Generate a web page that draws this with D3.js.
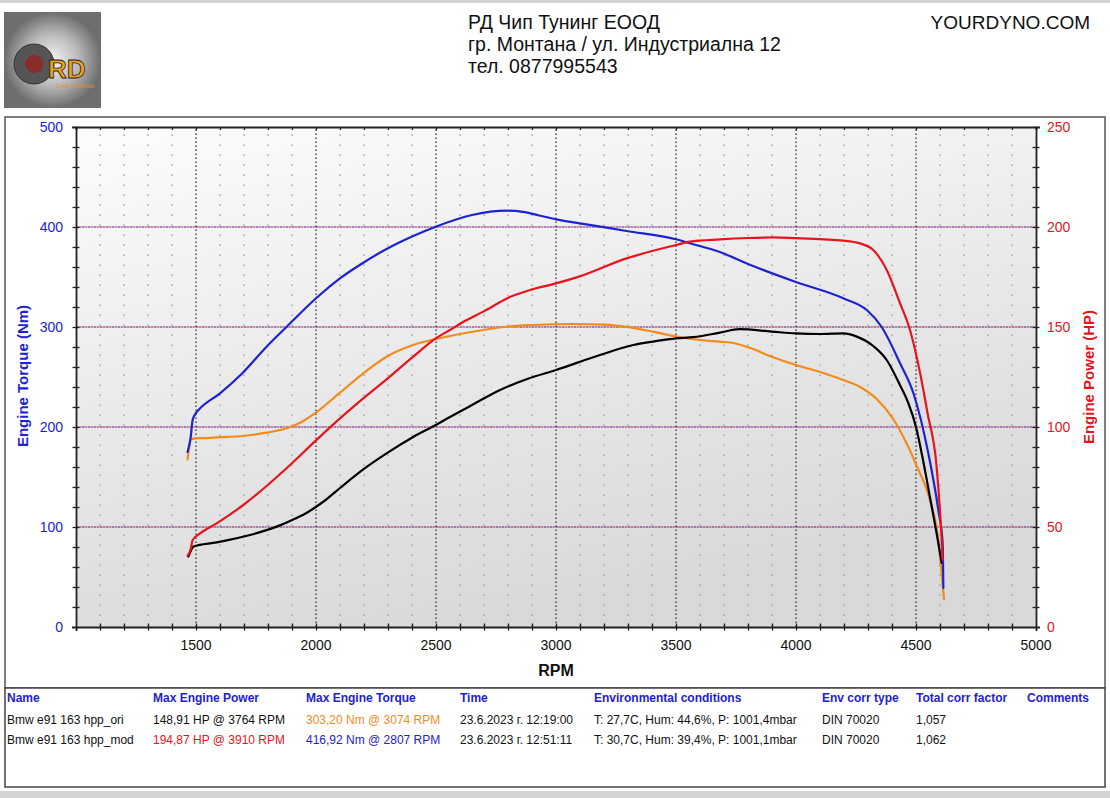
<!DOCTYPE html>
<html>
<head>
<meta charset="utf-8">
<script src="https://cdn.jsdelivr.net/npm/d3@7"></script>
<style type="text/css">
body { margin: 0; background: #fff; }
svg text { font-family: "Liberation Sans", Arial, sans-serif; }
.curve { fill: none; stroke-width: 2.2; stroke-linejoin: round; stroke-linecap: round; }
</style>
</head>
<body>
<div id="chart"></div>
<script>

// ---- data ----
// ori run (orange torque, black power)
var oriRpmTq  = [1465,1478,1496,1517,1600,1697,1794,1878,1940,1999,2100,2197,2294,2405,2499,2600,2697,2800,2905,3074,3200,3308,3405,3503,3600,3683,3739,3812,3899,4000,4100,4197,4267,4336,4405,4460,4503,4558,4593,4604,4617];
var oriTorque = [167.7,187,188.7,188.8,189.8,191,194.3,198.7,205,214.3,234.3,253.7,270.3,282,288,293,297,300.5,302,303,302.3,299.6,295.3,290.3,287,285.3,284,278.7,270.3,262,255,247,240,228,208,184,161,127,87,60,27.7];

var oriRpmPw  = [1468,1480,1489,1586,1725,1836,1919,1960,1999,2040,2100,2197,2294,2405,2499,2558,2650,2767,2880,3000,3183,3322,3405,3500,3572,3683,3764,3899,4000,4100,4197,4253,4322,4378,4433,4468,4500,4530,4558,4593,4607];
var oriPower  = [35.2,38.5,40.2,42.3,46,50.2,54.5,57,60,63.5,69.5,78.8,86.8,95,101,105,111,118.5,124,128.5,136,141,142.7,144.3,144.9,147.2,148.9,147.7,146.8,146.5,146.8,145.2,140.5,133.5,121,112,100,83,65,42,32];

// mod run (blue torque, red power)
var modRpmTq  = [1465,1478,1486,1503,1517,1600,1690,1794,1878,1999,2100,2197,2294,2405,2499,2650,2795,2862,2930,3000,3100,3294,3500,3558,3683,3800,4000,4197,4295,4357,4433,4489,4551,4593,4611,4614];
var modTorque = [175,190,207,215,218.7,233.7,253,280.3,300.3,328.5,348.7,364.3,378,391,400.3,412,416.3,415.2,411.5,407.7,403.7,396,387.7,383.7,375,363,345,328.7,317,300,264,234,174,117,84,39];

var modRpmPw  = [1465,1478,1486,1517,1586,1697,1794,1892,1999,2100,2197,2294,2405,2499,2558,2620,2697,2808,2892,3000,3086,3294,3500,3558,3683,3800,3910,4000,4197,4267,4322,4378,4433,4475,4517,4548,4586,4604,4611];
var modPower  = [35.6,39,43.5,46.8,51.8,61,70.5,81,93.2,104.3,114.3,123.8,135.2,144.3,148.5,153,157.7,165,168.5,171.8,174.8,184.3,191,192.7,193.8,194.5,194.8,194.4,193.2,191.8,188.5,178.5,162,148.5,127,107,80,50,33.5];

// axis labels
var rpmTickLabels    = [1500,2000,2500,3000,3500,4000,4500,5000];
var torqueTickLabels = [0,100,200,300,400,500];
var powerTickLabels  = [0,50,100,150,200,250];

// header + results table
var headerLines = ["РД Чип Тунинг ЕООД", "гр. Монтана / ул. Индустриална 12", "тел. 0877995543"];
var tableHeads  = ["Name","Max Engine Power","Max Engine Torque","Time","Environmental conditions","Env corr type","Total corr factor","Comments"];
var tableRows   = [
	["Bmw e91 163 hpp_ori","148,91 HP @ 3764 RPM","303,20 Nm @ 3074 RPM","23.6.2023 г. 12:19:00","T: 27,7C, Hum: 44,6%, P: 1001,4mbar","DIN 70020","1,057",""],
	["Bmw e91 163 hpp_mod","194,87 HP @ 3910 RPM","416,92 Nm @ 2807 RPM","23.6.2023 г. 12:51:11","T: 30,7C, Hum: 39,4%, P: 1001,1mbar","DIN 70020","1,062",""]
];
var tableColX   = [7,153,306,460,594,822,916,1027];
var rowColors   = [["#111","#111","#f08c1e","#111","#111","#111","#111"],
                   ["#111","#e8141c","#1e22d0","#111","#111","#111","#111"]];

var BLUE = "#1e22d0", RED = "#e8141c", ORANGE = "#f38b1c";

var svg = d3.select("#chart").append("svg")
	.attr("width", 1110).attr("height", 798);

var defs = svg.append("defs");
var bg = defs.append("linearGradient").attr("id","plotbg")
	.attr("x1","0").attr("y1","0").attr("x2","0.35").attr("y2","1");
bg.append("stop").attr("offset","0").attr("stop-color","#fcfcfc");
bg.append("stop").attr("offset","1").attr("stop-color","#d9d9d9");
var lg = defs.append("radialGradient").attr("id","logobg");
lg.append("stop").attr("offset","0").attr("stop-color","#f4f4f4");
lg.append("stop").attr("offset","0.55").attr("stop-color","#b8b8b8");
lg.append("stop").attr("offset","1").attr("stop-color","#6e6e6e");

// page strips
svg.append("rect").attr("x",0).attr("y",0).attr("width",1110).attr("height",3).attr("fill","#d4d4d4");
svg.append("rect").attr("x",0).attr("y",791).attr("width",1110).attr("height",7).attr("fill","#d4d4d4");

// logo (simplified)
var logo = svg.append("g").attr("transform","translate(4,12)");
logo.append("rect").attr("width",97).attr("height",96).attr("fill","url(#logobg)");
logo.append("circle").attr("cx",30).attr("cy",52).attr("r",20).attr("fill","#555").attr("stroke","#333");
logo.append("circle").attr("cx",30).attr("cy",52).attr("r",9).attr("fill","#8a2a2a");
logo.append("text").attr("x",44).attr("y",66).attr("font-size",26).attr("font-weight","bold")
	.attr("fill","#f0a020").attr("stroke","#222").attr("stroke-width",0.8).text("RD");
logo.append("text").attr("x",52).attr("y",76).attr("font-size",6).attr("fill","#e09020").text("CHIP TUNING");

// header text
svg.selectAll("text.hdr").data(headerLines).enter().append("text")
	.attr("class","hdr").attr("x",468).attr("y",function(d,i){ return 29 + i*22; })
	.attr("font-size",19.5).attr("fill","#111").text(function(d){ return d; });
svg.append("text").attr("x",1090).attr("y",29).attr("text-anchor","end")
	.attr("font-size",19).attr("fill","#111").text("YOURDYNO.COM");

// frames
svg.append("rect").attr("x",5).attr("y",117).attr("width",1100).attr("height",571)
	.attr("fill","#fff").attr("stroke","#555").attr("stroke-width",1.5);
svg.append("rect").attr("x",5).attr("y",688).attr("width",1100).attr("height",99)
	.attr("fill","#fff").attr("stroke","#444").attr("stroke-width",1.5);

// ---- plot ----
var margin = {left: 76, top: 127}, width = 960, height = 500;
var g = svg.append("g").attr("transform","translate(" + margin.left + "," + margin.top + ")");

var x  = d3.scaleLinear().domain([1000,5000]).range([0,width]);
var yT = d3.scaleLinear().domain([0,500]).range([height,0]);
var yP = d3.scaleLinear().domain([0,250]).range([height,0]);

g.append("rect").attr("width",width).attr("height",height).attr("fill","url(#plotbg)");

// minor vertical grid (every 100 rpm, sparse dots)
var minorRpm = d3.range(1100,5000,100).filter(function(r){ return r % 500 != 0; });
g.selectAll("line.vminor").data(minorRpm).enter().append("line")
	.attr("x1",function(d){ return x(d); }).attr("x2",function(d){ return x(d); })
	.attr("y1",height - 1).attr("y2",0)
	.attr("stroke","#8fa38f").attr("stroke-width",1.3).attr("stroke-dasharray","1.4,8.6");
// major vertical grid
var majorRpm = d3.range(1500,5000,500);
g.selectAll("line.vmajor").data(majorRpm).enter().append("line")
	.attr("x1",function(d){ return x(d); }).attr("x2",function(d){ return x(d); })
	.attr("y1",height).attr("y2",0)
	.attr("stroke","#4a4a4a").attr("stroke-width",1.5).attr("stroke-dasharray","1.6,2.4");
// horizontal grid: dashed blue/red
var hGrid = [100,200,300,400];
g.selectAll("line.hblue").data(hGrid).enter().append("line")
	.attr("x1",0).attr("x2",width).attr("y1",function(d){ return yT(d); }).attr("y2",function(d){ return yT(d); })
	.attr("stroke",BLUE).attr("stroke-width",1).attr("stroke-dasharray","2.5,3.5");
g.selectAll("line.hred").data(hGrid).enter().append("line")
	.attr("x1",0).attr("x2",width).attr("y1",function(d){ return yT(d); }).attr("y2",function(d){ return yT(d); })
	.attr("stroke",RED).attr("stroke-width",1).attr("stroke-dasharray","2.5,3.5").attr("stroke-dashoffset",3);

// axes
function crossTicks(sel, horiz, len) {
	sel.selectAll(".tick line").attr(horiz ? "y1" : "x1", -len).attr(horiz ? "y2" : "x2", len);
}
var xAxis = g.append("g").attr("transform","translate(0," + height + ")")
	.call(d3.axisBottom(x).tickValues(d3.range(1100,5000,100)).tickSize(4).tickFormat(""));
crossTicks(xAxis, true, 3.5);
var xTop = g.append("g")
	.call(d3.axisBottom(x).tickValues(d3.range(1100,5000,100)).tickSize(3).tickFormat(""));
var yAxisL = g.append("g")
	.call(d3.axisLeft(yT).tickValues(d3.range(20,500,20)).tickSize(4).tickFormat(""));
crossTicks(yAxisL, false, 3.5);
var yAxisR = g.append("g").attr("transform","translate(" + width + ",0)")
	.call(d3.axisRight(yP).tickValues(d3.range(10,250,10)).tickSize(4).tickFormat(""));
crossTicks(yAxisR, false, 3.5);
[xAxis, xTop, yAxisL, yAxisR].forEach(function(a){
	a.select(".domain").attr("stroke","#222").attr("stroke-width",1.8);
	a.selectAll(".tick line").attr("stroke","#222").attr("stroke-width",1.3);
});

// tick labels
g.selectAll("text.xl").data(rpmTickLabels).enter().append("text")
	.attr("x",function(d){ return x(d); }).attr("y",height + 23)
	.attr("text-anchor","middle").attr("font-size",14).attr("fill","#111")
	.text(function(d){ return d; });
g.selectAll("text.yl").data(torqueTickLabels).enter().append("text")
	.attr("x",-13).attr("y",function(d){ return yT(d) + 5; })
	.attr("text-anchor","end").attr("font-size",14).attr("fill",BLUE)
	.text(function(d){ return d; });
g.selectAll("text.yr").data(powerTickLabels).enter().append("text")
	.attr("x",width + 11).attr("y",function(d){ return yP(d) + 5; })
	.attr("font-size",14).attr("fill",RED)
	.text(function(d){ return d; });

// axis titles
svg.append("text").attr("transform","translate(28,376) rotate(-90)")
	.attr("text-anchor","middle").attr("font-size",15).attr("font-weight","bold").attr("fill",BLUE)
	.text("Engine Torque (Nm)");
svg.append("text").attr("transform","translate(1094,377) rotate(-90)")
	.attr("text-anchor","middle").attr("font-size",15).attr("font-weight","bold").attr("fill",RED)
	.text("Engine Power (HP)");
svg.append("text").attr("x",556).attr("y",676).attr("text-anchor","middle")
	.attr("font-size",16).attr("font-weight","bold").attr("fill","#111").text("RPM");

// curves
function pts(r, v) { return r.map(function(d,i){ return [d, v[i]]; }); }
function drawCurve(data, yScale, color) {
	g.append("path").datum(data).attr("class","curve").attr("stroke",color)
		.attr("d", d3.line()
			.x(function(d){ return x(d[0]); })
			.y(function(d){ return yScale(d[1]); })
			.curve(d3.curveMonotoneX));
}
drawCurve(pts(oriRpmTq, oriTorque), yT, ORANGE);
drawCurve(pts(oriRpmPw, oriPower), yP, "#000");
drawCurve(pts(modRpmTq, modTorque), yT, BLUE);
drawCurve(pts(modRpmPw, modPower), yP, RED);

// ---- results table ----
svg.selectAll("text.th").data(tableHeads).enter().append("text")
	.attr("x",function(d,i){ return tableColX[i]; }).attr("y",702)
	.attr("font-size",12).attr("font-weight","bold").attr("fill",BLUE)
	.text(function(d){ return d; });
tableRows.forEach(function(row, r) {
	svg.selectAll("text.tr" + r).data(row).enter().append("text")
		.attr("x",function(d,i){ return tableColX[i]; }).attr("y",724 + r*20)
		.attr("font-size",12).attr("fill",function(d,i){ return rowColors[r][i] || "#111"; })
		.text(function(d){ return d; });
});

</script>
</body>
</html>
